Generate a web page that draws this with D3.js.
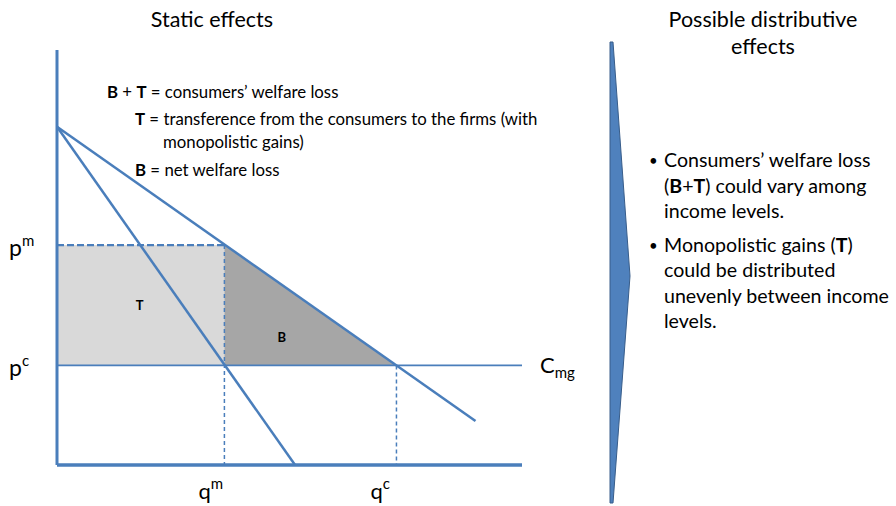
<!DOCTYPE html>
<html><head><meta charset="utf-8">
<script src="https://cdn.jsdelivr.net/npm/d3@7"></script>
<style>
html,body{margin:0;padding:0;background:#fff;}
svg{display:block;font-family:Lato,"Open Sans",sans-serif;}
</style></head>
<body><svg id="c" width="896" height="506"></svg>
<script>
// ---- data ----
const demandLine = [{q:0, p:8.15}, {q:9.0, p:1.06}];
const mrLine = [{q:0, p:8.15}, {q:5.12, p:0}];
const pm = 5.3, pc = 2.4, qm = 3.6, qc = 7.3;
const qMax = 10, pMax = 10;
const priceLabels = [{v: pm, base:"p", sup:"m"}, {v: pc, base:"p", sup:"c"}];
const qtyLabels = [{v: qm, base:"q", sup:"m"}, {v: qc, base:"q", sup:"c"}];
const legendLines = [
  [{t:"B", b:true},{t:" + "},{t:"T", b:true},{t:" = consumers’ welfare loss"}],
  [{t:"T", b:true},{t:" = transference from the consumers to the firms (with"}],
  [{t:"monopolistic gains)"}],
  [{t:"B", b:true},{t:" = net welfare loss"}]
];
const bulletItems = [
  [[{t:"Consumers’ welfare loss"}],[{t:"("},{t:"B",b:true},{t:"+"},{t:"T",b:true},{t:") could vary among"}],[{t:"income levels."}]],
  [[{t:"Monopolistic gains ("},{t:"T",b:true},{t:")"}],[{t:"could be distributed"}],[{t:"unevenly between income"}],[{t:"levels."}]]
];

const svg = d3.select("#c");
const blue = "#4a7ebb";
const x = d3.scaleLinear().domain([0, qMax]).range([57, 522]);
const y = d3.scaleLinear().domain([0, pMax]).range([465, 50]);

// titles
svg.append("text").attr("x",212).attr("y",27).attr("text-anchor","middle")
  .attr("font-size",21.5).attr("fill","#000").text("Static effects");
svg.append("text").attr("x",763).attr("y",27).attr("text-anchor","middle")
  .attr("font-size",21.5).attr("fill","#000").text("Possible distributive");
svg.append("text").attr("x",763).attr("y",54).attr("text-anchor","middle")
  .attr("font-size",21.5).attr("fill","#000").text("effects");

// areas
svg.append("rect").attr("x",x(0)).attr("y",y(pm)).attr("width",x(qm)-x(0)).attr("height",y(pc)-y(pm))
  .attr("fill","#d9d9d9");
svg.append("path").attr("d", d3.line().x(d=>x(d[0])).y(d=>y(d[1]))([[qm,pm],[qm,pc],[qc,pc]]) + "Z")
  .attr("fill","#a6a6a6");

// dashed guides
svg.append("line").attr("x1",x(0)).attr("x2",x(qm)).attr("y1",y(pm)).attr("y2",y(pm))
  .attr("stroke",blue).attr("stroke-width",2.2).attr("stroke-dasharray","7,3");
svg.append("line").attr("x1",x(qm)).attr("x2",x(qm)).attr("y1",y(pm)).attr("y2",y(0))
  .attr("stroke",blue).attr("stroke-width",1.5).attr("stroke-dasharray","4,3");
svg.append("line").attr("x1",x(qc)).attr("x2",x(qc)).attr("y1",y(pc)).attr("y2",y(0))
  .attr("stroke",blue).attr("stroke-width",1.5).attr("stroke-dasharray","4,3");

// Cmg line
svg.append("line").attr("x1",x(0)).attr("x2",x(qMax)).attr("y1",y(pc)).attr("y2",y(pc))
  .attr("stroke",blue).attr("stroke-width",1.6);

const line = d3.line().x(d=>x(d.q)).y(d=>y(d.p));
svg.append("path").attr("d",line(demandLine)).attr("stroke",blue).attr("stroke-width",2.5).attr("fill","none");
svg.append("path").attr("d",line(mrLine)).attr("stroke",blue).attr("stroke-width",2.5).attr("fill","none");

// axes
svg.append("line").attr("x1",x(0)).attr("x2",x(0)).attr("y1",y(pMax)).attr("y2",y(0))
  .attr("stroke",blue).attr("stroke-width",3);
svg.append("line").attr("x1",x(0)).attr("x2",x(qMax)).attr("y1",y(0)).attr("y2",y(0))
  .attr("stroke",blue).attr("stroke-width",3.5);

// area labels
svg.append("text").attr("x",(x(0)+x(qm))/2-1).attr("y",(y(pm)+y(pc))/2+5).attr("text-anchor","middle")
  .attr("font-size",13).attr("font-weight","bold").text("T");
svg.append("text").attr("x",x(qm)+ (x(qc)-x(qm))/3).attr("y",y(pc)-23).attr("text-anchor","middle")
  .attr("font-size",13).attr("font-weight","bold").text("B");

// price / quantity labels
priceLabels.forEach(d=>{
  const t = svg.append("text").attr("x",9).attr("y",y(d.v)+11).attr("font-size",23);
  t.append("tspan").text(d.base);
  t.append("tspan").attr("dy",-10).attr("font-size",15).text(d.sup);
});
qtyLabels.forEach(d=>{
  const t = svg.append("text").attr("x",x(d.v)-26).attr("y",499).attr("font-size",22);
  t.append("tspan").text(d.base);
  t.append("tspan").attr("dy",-10).attr("font-size",15).text(d.sup);
});
{
  const t = svg.append("text").attr("x",540).attr("y",y(pc)+8).attr("font-size",22);
  t.append("tspan").text("C");
  t.append("tspan").attr("dy",5).attr("font-size",15).text("mg");
}

// legend text
const legX = [107,135,163,135], legY = [98,125,148,176];
legendLines.forEach((ln,i)=>{
  const t = svg.append("text").attr("x",legX[i]).attr("y",legY[i]).attr("font-size",16.8);
  ln.forEach(s=>t.append("tspan").attr("font-weight",s.b?"bold":"normal").text(s.t));
});

// arrow shape
svg.append("path").attr("d","M610,42 L613,42 L630,276 L613,503 L610,503 Z")
  .attr("fill","#4f81bd").attr("stroke","#385d8a").attr("stroke-width",1);

// bullets
let by = 167;
bulletItems.forEach(item=>{
  svg.append("text").attr("x",649).attr("y",by-1).attr("font-size",15).text("•");
  item.forEach(ln=>{
    const t = svg.append("text").attr("x",664).attr("y",by).attr("font-size",19.6);
    ln.forEach(s=>t.append("tspan").attr("font-weight",s.b?"bold":"normal").text(s.t));
    by += 25.5;
  });
  by += 8;
});
</script></body></html>
